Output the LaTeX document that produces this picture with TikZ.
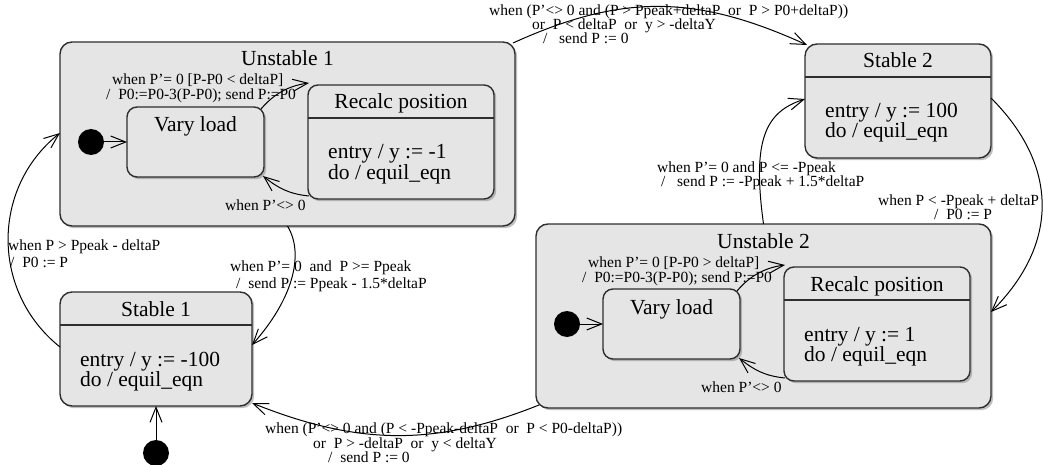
\documentclass[tikz,border=0pt]{standalone}
\usepackage{fontspec}
\setmainfont{Liberation Serif}
\usetikzlibrary{arrows.meta,shadows,calc}

\definecolor{stfill}{HTML}{E5E5E5}
\definecolor{stline}{HTML}{2E2E2E}

\tikzset{
  box/.style={draw=stline, line width=1.4pt, fill=stfill, inner sep=0pt, outer sep=0pt,
    anchor=north west,
    drop shadow={shadow xshift=2.2pt, shadow yshift=-2.2pt, fill=black!50}},
  bigbox/.style={box, rounded corners=12pt, minimum width=455pt, minimum height=184pt},
  subbox/.style={box, rounded corners=10pt},
  sep/.style={draw=stline, line width=1.2pt},
  big/.style={font=\fontsize{21.5}{20}\selectfont, inner sep=0pt},
  lbl/.style={font=\fontsize{15.5}{14}\selectfont, inner sep=0pt, anchor=base west},
  trans/.style={draw=black, line width=1pt,
    -{Straight Barb[length=15pt,width=12pt,line width=1pt]}},
  initdot/.style={circle, fill=black, minimum size=26pt, inner sep=0pt},
}

\begin{document}
\begin{tikzpicture}[x=1pt,y=-1pt]
\useasboundingbox (0,0) rectangle (1043,465);

% ---------- composite state: Unstable 1 ----------
\node[bigbox] (u1) at (60,42) {};
\node[big,anchor=base] (u1t) at ($(u1.north)+(0,24)$) {Unstable 1};
\node[subbox, minimum width=137pt, minimum height=70pt] (vl1) at ($(u1.north west)+(67,65)$) {};
\node[big,anchor=base] (vl1t) at ($(vl1.north)+(0,25)$) {Vary load};
\node[subbox, minimum width=186pt, minimum height=114pt] (rc1) at ($(u1.north west)+(248,43)$) {};
\node[big,anchor=base] (rc1t) at ($(rc1.north)+(0,24)$) {Recalc position};
\draw[sep] ($(rc1.north west)+(0,33)$) -- ($(rc1.north east)+(0,33)$);
\node[big,anchor=base west] (rc1e) at ($(rc1.north west)+(20,74)$) {entry / y := -1};
\node[big,anchor=base west] (rc1d) at ($(rc1.north west)+(20,94)$) {do / equil\_eqn};
\node[initdot] (i1) at ($(u1.north west)+(31,100)$) {};

% ---------- composite state: Unstable 2 ----------
\node[bigbox] (u2) at (536,224) {};
\node[big,anchor=base] (u2t) at ($(u2.north)+(0,24)$) {Unstable 2};
\node[subbox, minimum width=137pt, minimum height=70pt] (vl2) at ($(u2.north west)+(67,65)$) {};
\node[big,anchor=base] (vl2t) at ($(vl2.north)+(0,25)$) {Vary load};
\node[subbox, minimum width=186pt, minimum height=114pt] (rc2) at ($(u2.north west)+(248,43)$) {};
\node[big,anchor=base] (rc2t) at ($(rc2.north)+(0,24)$) {Recalc position};
\draw[sep] ($(rc2.north west)+(0,33)$) -- ($(rc2.north east)+(0,33)$);
\node[big,anchor=base west] (rc2e) at ($(rc2.north west)+(20,74)$) {entry / y := 1};
\node[big,anchor=base west] (rc2d) at ($(rc2.north west)+(20,94)$) {do / equil\_eqn};
\node[initdot] (i2) at ($(u2.north west)+(31,100)$) {};

% ---------- simple states ----------
\node[subbox, rounded corners=12pt, minimum width=192pt, minimum height=114pt] (s1) at (60,292) {};
\node[big,anchor=base] (s1t) at ($(s1.north)+(0,24)$) {Stable 1};
\draw[sep] ($(s1.north west)+(0,33)$) -- ($(s1.north east)+(0,33)$);
\node[big,anchor=base west] (s1e) at ($(s1.north west)+(20,74)$) {entry / y := -100};
\node[big,anchor=base west] (s1d) at ($(s1.north west)+(20,94)$) {do / equil\_eqn};
\node[initdot] (i3) at (156,453) {};

\node[subbox, rounded corners=12pt, minimum width=186pt, minimum height=114pt] (s2) at (805,44) {};
\node[big,anchor=base] (s2t) at ($(s2.north)+(0,24)$) {Stable 2};
\draw[sep] ($(s2.north west)+(0,33)$) -- ($(s2.north east)+(0,33)$);
\node[big,anchor=base west] (s2e) at ($(s2.north west)+(20,74)$) {entry / y := 100};
\node[big,anchor=base west] (s2d) at ($(s2.north west)+(20,94)$) {do / equil\_eqn};

% ---------- inner transitions ----------
\draw[trans] (i1) -- (vl1);
\draw[trans] ($(vl1.north east)+(-3,2)$) .. controls +(12,-14) and +(-22,3) .. ($(rc1.north west)+(1,-2)$);
\draw[trans] ($(rc1.south west)+(1,-3)$) .. controls +(-20,-2) and +(15,12) .. ($(vl1.south east)+(-1,-1)$);
\node[lbl] (lu1a) at ($(u1.north west)+(52,43)$) {when P’= 0 [P-P0 < deltaP]};
\node[lbl] (lu1b) at ($(u1.north west)+(46,58)$) {/~~P0:=P0-3(P-P0); send P:=P0};
\node[lbl] (lu1c) at ($(u1.north west)+(165,168)$) {when P’<> 0};

\draw[trans] (i2) -- (vl2);
\draw[trans] ($(vl2.north east)+(-3,2)$) .. controls +(12,-14) and +(-22,3) .. ($(rc2.north west)+(1,-2)$);
\draw[trans] ($(rc2.south west)+(1,-3)$) .. controls +(-20,-2) and +(15,12) .. ($(vl2.south east)+(-1,-1)$);
\node[lbl] (lu2a) at ($(u2.north west)+(52,43)$) {when P’= 0 [P-P0 > deltaP]};
\node[lbl] (lu2b) at ($(u2.north west)+(46,58)$) {/~~P0:=P0-3(P-P0); send P:=P0};
\node[lbl] (lu2c) at ($(u2.north west)+(165,168)$) {when P’<> 0};

% ---------- transitions between states ----------
\draw[trans] (i3) -- (s1);

% Unstable 1 -> Stable 2
\draw[trans] ($(u1.north east)+(-2,1)$) .. controls +(110,-50) and +(-110,-50) .. ($(s2.north west)+(2,1)$);
\node[lbl] (la1) at (489,16) {when (P’<> 0 and (P > Ppeak+deltaP~~or~~P > P0+deltaP))};
\node[lbl] (la2) at (532,30) {or~~P < deltaP~~or~~y > -deltaY};
\node[lbl] (la3) at (543,44) {/~~~send P := 0};

% Stable 2 -> Unstable 2
\draw[trans] ($(s2.east)+(0,-3)$) .. controls +(68,68) and +(68,-68) .. ($(u2.east)+(0,-4)$);
\node[lbl] (lb1) at (878,205) {when P < -Ppeak + deltaP};
\node[lbl] (lb2) at (934,219) {/~~P0 := P};

% Unstable 2 -> Stable 2
\draw[trans] (u2.north) .. controls (752,140) and (765,112) .. ($(s2.west)+(0,-2)$);
\node[lbl] (lc1) at (657,172) {when P’= 0 and P <= -Ppeak};
\node[lbl] (lc2) at (661,186) {/~~~send P := -Ppeak + 1.5*deltaP};

% Unstable 1 -> Stable 1
\draw[trans] (u1.south) .. controls (305,255) and (292,300) .. ($(s1.east)+(0,-4)$);
\node[lbl] (ld1) at (230,271) {when P’= 0~~and~~P >= Ppeak};
\node[lbl] (ld2) at (236,288) {/~~send P := Ppeak - 1.5*deltaP};

% Stable 1 -> Unstable 1
\draw[trans] ($(s1.west)+(0,-2)$) .. controls +(-69,-55) and +(-69,55) .. ($(u1.west)+(0,-1)$);
\node[lbl] (le1) at (8,250) {when P > Ppeak - deltaP};
\node[lbl] (le2) at (10,267) {/~~P0 := P};

% Unstable 2 -> Stable 1
\draw[trans] ($(u2.south west)+(3,-3)$) .. controls +(-105,42) and +(105,42) .. ($(s1.south east)+(0,-3)$);
\node[lbl] (lf1) at (265,433) {when (P’<> 0 and (P < -Ppeak-deltaP~~or~~P < P0-deltaP))};
\node[lbl] (lf2) at (313,448) {or~~P > -deltaP~~or~~y < deltaY};
\node[lbl] (lf3) at (328,462) {/~~send P := 0};
\end{tikzpicture}
\end{document}
